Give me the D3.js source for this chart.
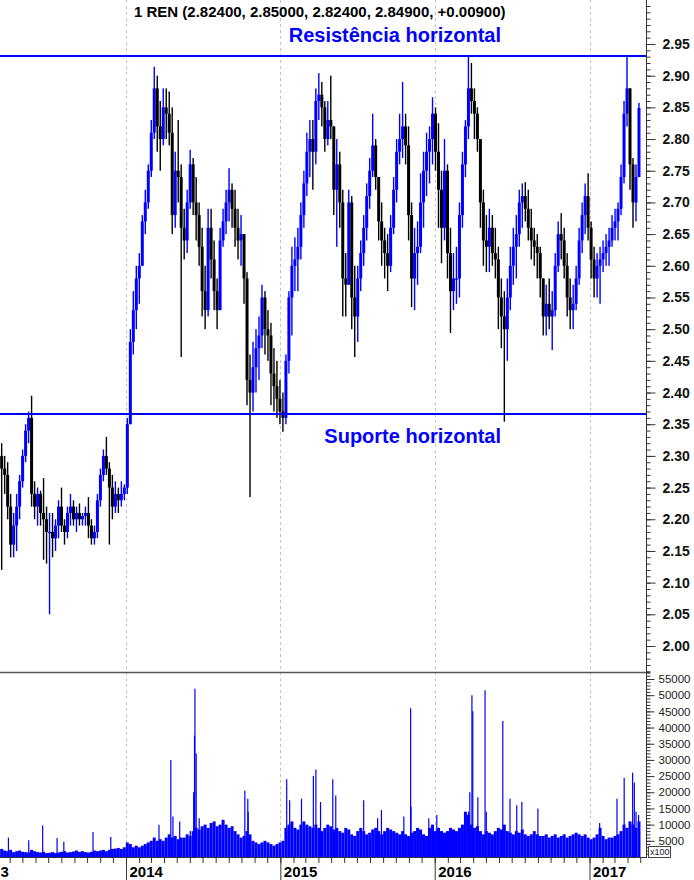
<!DOCTYPE html>
<html><head><meta charset="utf-8">
<script src="https://cdn.jsdelivr.net/npm/d3@7"></script>
<style>body{margin:0;background:#fff}svg{display:block}</style>
</head><body><svg id="c" width="694" height="880"></svg>
<script>
const title = "1 REN (2.82400, 2.85000, 2.82400, 2.84900, +0.00900)";
const resistanceLabel = "Resistência horizontal";
const supportLabel = "Suporte horizontal";
const resistanceLevel = 2.931;
const supportLevel = 2.366;
const firstWeek = new Date(2013, 2, 13);
const lastWeek = new Date(2017, 3, 28);
const firstOpen = 2.30;
const weekHigh = [
2.32,2.30,2.29,2.24,2.21,2.24,2.27,2.31,2.35,2.37,
2.395,2.26,2.25,2.245,2.265,2.22,2.21,2.21,2.20,2.23,
2.25,2.20,2.22,2.24,2.23,2.22,2.225,2.21,2.22,2.235,
2.20,2.19,2.24,2.28,2.31,2.33,2.29,2.27,2.26,2.25,
2.26,2.255,2.36,2.50,2.56,2.60,2.62,2.68,2.72,2.76,
2.83,2.914,2.90,2.86,2.88,2.88,2.875,2.85,2.78,2.83,
2.76,2.69,2.72,2.783,2.77,2.74,2.70,2.66,2.60,2.69,
2.69,2.64,2.58,2.66,2.69,2.72,2.754,2.73,2.72,2.69,
2.68,2.65,2.59,2.46,2.48,2.50,2.52,2.57,2.56,2.53,
2.51,2.47,2.45,2.42,2.40,2.46,2.56,2.63,2.645,2.66,
2.70,2.75,2.81,2.83,2.83,2.88,2.904,2.89,2.86,2.86,
2.90,2.82,2.80,2.78,2.72,2.62,2.72,2.71,2.60,2.60,
2.64,2.68,2.73,2.77,2.84,2.80,2.74,2.70,2.66,2.65,
2.68,2.74,2.80,2.84,2.89,2.84,2.82,2.70,2.66,2.67,
2.746,2.78,2.81,2.82,2.866,2.85,2.825,2.75,2.80,2.76,
2.66,2.62,2.63,2.70,2.78,2.83,2.93,2.92,2.88,2.85,
2.78,2.72,2.68,2.69,2.68,2.66,2.63,2.58,2.56,2.58,
2.63,2.66,2.68,2.72,2.73,2.732,2.72,2.69,2.66,2.65,
2.63,2.58,2.57,2.58,2.56,2.62,2.67,2.683,2.66,2.62,
2.58,2.57,2.60,2.66,2.70,2.73,2.746,2.67,2.63,2.62,
2.63,2.64,2.65,2.66,2.68,2.69,2.70,2.76,2.86,2.93,
2.88,2.77,2.76,2.857];
const weekLow = [
2.12,2.24,2.20,2.14,2.14,2.15,2.20,2.25,2.29,2.32,
2.22,2.20,2.19,2.19,2.136,2.13,2.05,2.14,2.15,2.17,
2.18,2.16,2.17,2.19,2.19,2.18,2.19,2.19,2.19,2.17,
2.16,2.16,2.17,2.22,2.26,2.27,2.16,2.20,2.21,2.21,
2.22,2.23,2.24,2.35,2.46,2.50,2.54,2.60,2.65,2.69,
2.74,2.80,2.78,2.75,2.79,2.80,2.79,2.65,2.66,2.70,
2.456,2.61,2.62,2.69,2.68,2.64,2.60,2.52,2.50,2.52,
2.58,2.53,2.50,2.53,2.63,2.65,2.67,2.66,2.63,2.61,
2.60,2.54,2.38,2.235,2.37,2.40,2.42,2.47,2.46,2.45,
2.38,2.37,2.36,2.35,2.338,2.35,2.43,2.49,2.56,2.56,
2.61,2.66,2.71,2.74,2.72,2.76,2.83,2.82,2.78,2.79,
2.80,2.68,2.63,2.66,2.52,2.52,2.58,2.50,2.456,2.48,
2.56,2.60,2.64,2.69,2.74,2.72,2.64,2.60,2.58,2.56,
2.59,2.65,2.70,2.76,2.77,2.76,2.64,2.535,2.53,2.57,
2.62,2.66,2.71,2.73,2.76,2.75,2.66,2.604,2.64,2.58,
2.494,2.53,2.54,2.55,2.66,2.74,2.80,2.84,2.80,2.78,
2.66,2.60,2.59,2.59,2.60,2.58,2.50,2.47,2.354,2.45,
2.53,2.57,2.58,2.63,2.66,2.67,2.64,2.61,2.60,2.58,
2.55,2.49,2.49,2.50,2.467,2.52,2.59,2.61,2.58,2.52,
2.50,2.50,2.53,2.57,2.62,2.65,2.64,2.58,2.55,2.55,
2.54,2.59,2.60,2.60,2.63,2.64,2.64,2.68,2.73,2.82,
2.72,2.66,2.67,2.74];
const weekClose = [
2.28,2.27,2.22,2.16,2.19,2.22,2.26,2.30,2.34,2.36,
2.24,2.22,2.24,2.21,2.20,2.18,2.18,2.17,2.19,2.22,
2.19,2.18,2.21,2.22,2.20,2.21,2.20,2.205,2.21,2.19,
2.17,2.18,2.23,2.27,2.30,2.28,2.25,2.22,2.24,2.23,
2.24,2.25,2.35,2.48,2.53,2.58,2.60,2.67,2.70,2.75,
2.81,2.88,2.82,2.80,2.85,2.84,2.81,2.68,2.75,2.74,
2.66,2.64,2.70,2.76,2.70,2.68,2.63,2.56,2.53,2.66,
2.61,2.56,2.53,2.64,2.67,2.70,2.72,2.69,2.66,2.64,
2.65,2.58,2.42,2.40,2.44,2.47,2.49,2.55,2.50,2.49,
2.43,2.41,2.39,2.37,2.36,2.45,2.55,2.60,2.61,2.63,
2.68,2.73,2.78,2.80,2.78,2.86,2.87,2.85,2.80,2.83,
2.82,2.72,2.76,2.70,2.58,2.57,2.70,2.55,2.52,2.58,
2.62,2.66,2.71,2.75,2.79,2.74,2.67,2.64,2.62,2.60,
2.66,2.72,2.78,2.80,2.82,2.79,2.68,2.58,2.62,2.63,
2.70,2.75,2.78,2.80,2.84,2.78,2.72,2.66,2.75,2.62,
2.56,2.58,2.58,2.68,2.76,2.82,2.88,2.86,2.84,2.80,
2.70,2.64,2.63,2.66,2.62,2.61,2.55,2.52,2.50,2.55,
2.60,2.63,2.65,2.70,2.71,2.69,2.66,2.64,2.63,2.62,
2.58,2.52,2.54,2.52,2.53,2.60,2.65,2.64,2.60,2.55,
2.53,2.54,2.58,2.64,2.68,2.71,2.66,2.61,2.58,2.60,
2.61,2.62,2.63,2.64,2.66,2.67,2.69,2.74,2.84,2.88,
2.76,2.70,2.74,2.849];
const weekVolume = [
2500,2000,1800,2200,1500,1800,2000,1600,1500,1400,
2200,1800,1500,1400,1600,1200,1300,1500,1200,1400,
1600,1800,1400,1500,1700,2000,1600,1800,1500,1400,
1600,2000,1800,2000,2200,1800,2200,2500,2600,2800,
2500,3000,
4500,4000,3000,3500,3000,3500,4000,4500,5000,6000,5000,5500,5000,6000,7000,6000,6500,5500,6000,
6000,7000,6500,8000,9000,8500,9500,10000,9000,10500,11000,9500,10000,11500,10000,9000,9500,8000,7000,6000,6500,
8000,7000,5000,4500,4000,4500,5000,4500,4000,3500,4000,4500,5000,
9000,10000,11000,9000,8500,10000,11000,10000,9500,9000,10000,9000,8000,9000,10000,9500,8500,9000,
8000,7500,9000,8500,7000,6500,8000,9000,8000,7000,7500,8500,9000,8000,7000,8000,9000,8500,8000,7500,7000,8000,7000,6500,7500,8000,9000,8500,7000,6500,9000,10000,8000,
9000,8000,7500,8000,9000,8500,8000,9000,10000,14000,13000,10000,9000,9500,8000,7000,8000,7500,7000,8000,9000,8500,10000,8000,7500,7000,8000,7500,8500,7000,6500,7000,8000,7000,6500,
6500,7000,6000,6500,7000,6000,6500,7000,6000,6500,7000,7500,7000,6500,7000,6000,5500,6000,7000,9000,6500,5500,6000,6000,6500,7000,8000,10000,9000,11000,10000,9000,11000];
const spikeDates = ["2013-03-29","2013-05-16","2013-06-18","2013-07-22","2013-08-07","2013-10-15","2013-11-26",
"2014-03-20","2014-04-17","2014-04-22","2014-05-08","2014-06-02","2014-06-10","2014-06-12","2014-06-13","2014-06-16","2014-06-23","2014-10-09","2014-10-16","2014-10-17",
"2015-01-16","2015-01-23","2015-02-20","2015-03-20","2015-03-26","2015-04-06","2015-05-05","2015-05-12","2015-07-17","2015-08-19","2015-08-28","2015-10-20","2015-11-05","2015-11-06","2015-12-18",
"2016-01-06","2016-03-21","2016-03-24","2016-03-29","2016-03-31","2016-04-12","2016-04-29","2016-05-02","2016-06-10","2016-06-27","2016-07-13","2016-07-25","2016-09-01",
"2017-01-25","2017-03-07","2017-03-24","2017-04-13","2017-04-17","2017-04-21","2017-04-27"];
const spikeValues = [6000,5200,9700,5900,4700,7700,6200,
10000,30000,12500,11000,8000,20000,37500,52000,32000,12000,20500,18000,14000,
24000,17500,18000,25000,27000,17000,24000,19000,17500,12000,14500,12500,46000,15500,12000,
13000,14000,20000,50000,45000,18500,51500,14000,42000,18000,16000,17000,15000,
10500,18000,24500,26000,23000,14000,13000];
const priceTickValues = [2.00,2.05,2.10,2.15,2.20,2.25,2.30,2.35,2.40,2.45,2.50,2.55,2.60,2.65,2.70,2.75,2.80,2.85,2.90,2.95];
const volumeTickValues = [5000,10000,15000,20000,25000,30000,35000,40000,45000,50000,55000];
const yearTickDates = [new Date(2013,0,1),new Date(2014,0,1),new Date(2015,0,1),new Date(2016,0,1),new Date(2017,0,1)];
const yearTickLabels = ["3","2014","2015","2016","2017"];

const W = 694, H = 880, AX = 646, SEP = 672, BASE = 857;
const BLUE = "#0000ff";
const FONT = "'Liberation Sans', Arial, sans-serif";
const svg = d3.select("#c");

const xAnchor = d3.scaleTime().domain([new Date(2014,0,1), new Date(2017,0,1)]).range([126, 589.5]);
const x = d3.scaleTime().domain([xAnchor.invert(0), xAnchor.invert(AX)]).range([0, AX]);
const weekIndex = d3.scaleTime().domain([firstWeek, lastWeek]).range([0, weekClose.length - 1]);
const yP = d3.scaleLinear().domain([2.00, 2.95]).range([646, 44]);
const yV = d3.scaleLinear().domain([0, 55000]).range([BASE, 679]);

const defs = svg.append("defs");
defs.append("clipPath").attr("id","cp").append("rect").attr("x",0).attr("y",0).attr("width",AX).attr("height",SEP);
defs.append("clipPath").attr("id","cv").append("rect").attr("x",0).attr("y",SEP+1).attr("width",AX).attr("height",BASE-SEP-1);

// year grid lines
svg.append("g").selectAll("line").data(yearTickDates.slice(1)).join("line")
  .attr("x1", d => Math.round(x(d)) + 0.5).attr("x2", d => Math.round(x(d)) + 0.5)
  .attr("y1", 0).attr("y2", BASE)
  .attr("stroke", "#c4c4c4").attr("stroke-width", 1).attr("stroke-dasharray", "3,3");

// candles
const bars = weekClose.map((c, i) => ({
  date: weekIndex.invert(i), h: weekHigh[i], l: weekLow[i], c: c,
  o: i === 0 ? firstOpen : weekClose[i - 1], v: weekVolume[i]
}));
const pg = svg.append("g").attr("clip-path", "url(#cp)");
pg.selectAll("rect.w").data(bars).join("rect").attr("class","w")
  .attr("x", d => x(d.date) - 0.7).attr("width", 1.4)
  .attr("y", d => yP(d.h)).attr("height", d => Math.max(1, yP(d.l) - yP(d.h)))
  .attr("fill", d => d.c >= d.o ? BLUE : "#000");
pg.selectAll("rect.b").data(bars).join("rect").attr("class","b")
  .attr("x", d => x(d.date) - 1.5).attr("width", 3)
  .attr("y", d => yP(Math.max(d.o, d.c))).attr("height", d => Math.max(1.2, Math.abs(yP(d.o) - yP(d.c))))
  .attr("fill", d => d.c >= d.o ? BLUE : "#000");

// horizontal lines
[resistanceLevel, supportLevel].forEach(v => {
  svg.append("line").attr("x1", 0).attr("x2", AX).attr("y1", yP(v)).attr("y2", yP(v))
    .attr("stroke", BLUE).attr("stroke-width", 2);
});
svg.append("text").attr("x", 501).attr("y", 42).attr("text-anchor","end")
  .attr("font-family", FONT).attr("font-weight","bold").attr("font-size", 20).attr("fill", BLUE)
  .text(resistanceLabel);
svg.append("text").attr("x", 501).attr("y", 443).attr("text-anchor","end")
  .attr("font-family", FONT).attr("font-weight","bold").attr("font-size", 20).attr("fill", BLUE)
  .text(supportLabel);

// title
svg.append("text").attr("x", 134).attr("y", 17)
  .attr("font-family", FONT).attr("font-weight","bold").attr("font-size", 15).attr("fill", "#000")
  .text(title);

// volume
const vg = svg.append("g").attr("clip-path", "url(#cv)");
vg.selectAll("rect").data(bars).join("rect")
  .attr("x", d => x(d.date) - 1.5).attr("width", 3)
  .attr("y", d => yV(d.v)).attr("height", d => BASE - yV(d.v))
  .attr("fill", BLUE);
vg.selectAll("line").data(spikeDates.map((s, i) => ({date: d3.timeParse("%Y-%m-%d")(s), v: spikeValues[i]}))).join("line")
  .attr("x1", d => x(d.date)).attr("x2", d => x(d.date))
  .attr("y1", BASE).attr("y2", d => yV(d.v))
  .attr("stroke", BLUE).attr("stroke-width", 1.2);

// separator and axis lines
svg.append("line").attr("x1", 0).attr("x2", AX + 4).attr("y1", SEP + 0.5).attr("y2", SEP + 0.5).attr("stroke", "#555").attr("stroke-width", 1.5);
svg.append("line").attr("x1", AX + 0.5).attr("x2", AX + 0.5).attr("y1", 0).attr("y2", BASE + 1).attr("stroke", "#333");
svg.append("line").attr("x1", 0).attr("x2", AX + 1).attr("y1", BASE + 0.5).attr("y2", BASE + 0.5).attr("stroke", "#333");

// price axis
const minorP = d3.range(196, 302).map(v => v / 100);
svg.append("g").attr("transform", `translate(${AX + 0.5},0)`)
  .call(d3.axisRight(yP).tickValues(minorP).tickSize(4).tickFormat(""))
  .call(g => g.select(".domain").remove())
  .call(g => g.selectAll("line").attr("stroke", "#333"));
svg.append("g").attr("transform", `translate(${AX + 0.5},0)`)
  .call(d3.axisRight(yP).tickValues(priceTickValues).tickSize(9).tickPadding(7).tickFormat(d3.format(".2f")))
  .call(g => g.select(".domain").remove())
  .call(g => g.selectAll("line").attr("stroke", "#333"))
  .call(g => g.selectAll("text").attr("font-family", FONT).attr("font-weight","bold").attr("font-size", 14).attr("fill", "#111"));

// volume axis
const minorV = d3.range(1000, 58000, 1000);
svg.append("g").attr("transform", `translate(${AX + 0.5},0)`)
  .call(d3.axisRight(yV).tickValues(minorV).tickSize(4).tickFormat(""))
  .call(g => g.select(".domain").remove())
  .call(g => g.selectAll("line").attr("stroke", "#333"));
svg.append("g").attr("transform", `translate(${AX + 0.5},0)`)
  .call(d3.axisRight(yV).tickValues(volumeTickValues).tickSize(8).tickPadding(4).tickFormat(d3.format("d")))
  .call(g => g.select(".domain").remove())
  .call(g => g.selectAll("line").attr("stroke", "#333"))
  .call(g => g.selectAll("text").attr("font-family", FONT).attr("font-size", 11.5).attr("fill", "#222"));
svg.append("rect").attr("x", AX + 2.5).attr("y", 846.5).attr("width", 22).attr("height", 11).attr("fill", "#fff").attr("stroke", "#444");
svg.append("text").attr("x", AX + 4).attr("y", 855).attr("font-family", FONT).attr("font-size", 9).attr("fill", "#222").text("x100");

// x axis
svg.append("g").attr("transform", `translate(0,${BASE})`)
  .call(d3.axisBottom(x).ticks(d3.timeMonth.every(1)).tickSize(6).tickFormat(""))
  .call(g => g.select(".domain").remove())
  .call(g => g.selectAll("line").attr("stroke", "#333"));
svg.append("g").attr("transform", `translate(0,${BASE})`)
  .call(d3.axisBottom(x).tickValues(yearTickDates).tickSize(H - BASE).tickFormat((d, i) => yearTickLabels[i]))
  .call(g => g.select(".domain").remove())
  .call(g => g.selectAll("line").attr("stroke", "#333"))
  .call(g => g.selectAll("text").attr("x", (d, i) => i === 0 ? -x(d) : 3).attr("y", 20).attr("dy", 0).attr("text-anchor", "start")
    .attr("font-family", FONT).attr("font-weight","bold").attr("font-size", 15).attr("fill", "#000"));
</script></body></html>
